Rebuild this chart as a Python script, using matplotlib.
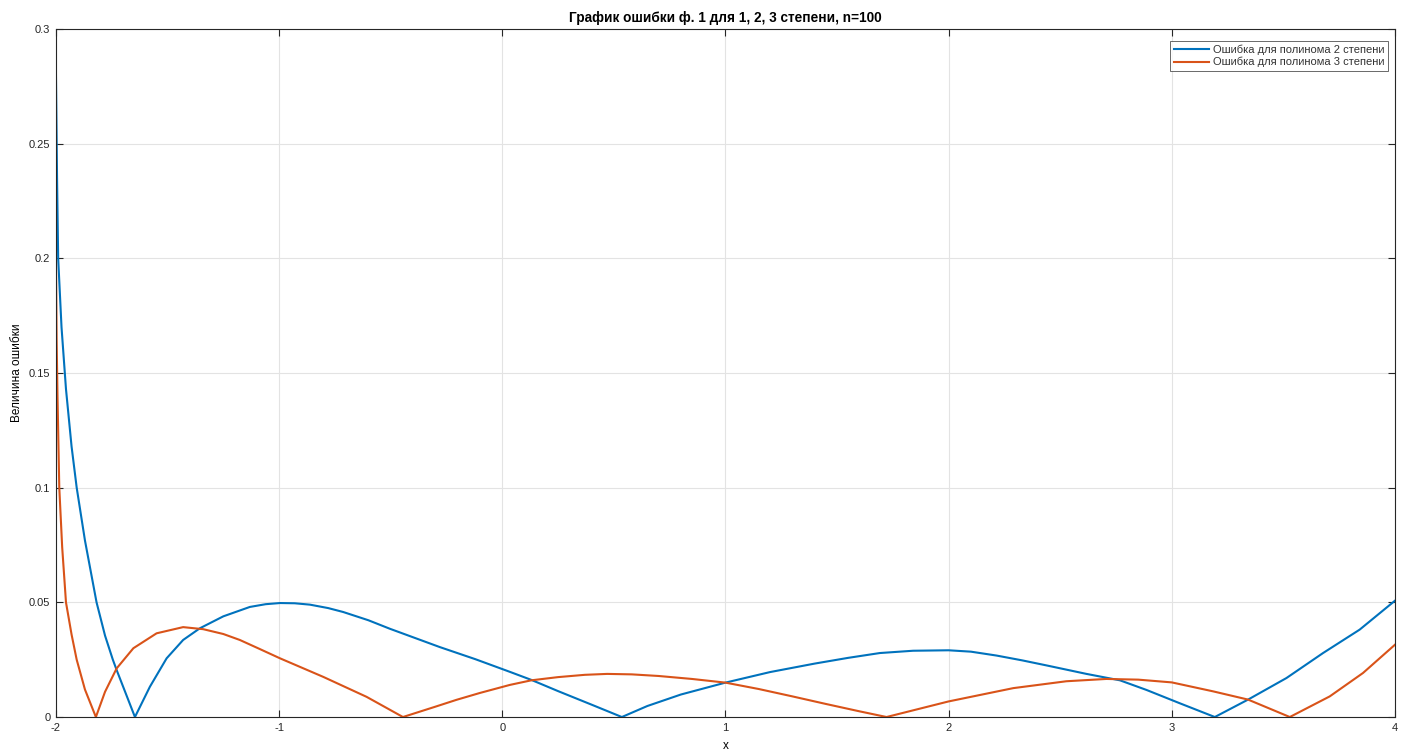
import numpy as np
import matplotlib.pyplot as plt

# error of degree-2 polynomial
x_p2 = [-2.000, -1.995, -1.990, -1.975, -1.955, -1.930, -1.907, -1.870, -1.818,
        -1.780, -1.745, -1.728, -1.690, -1.646, -1.579, -1.504, -1.430, -1.355,
        -1.250, -1.131, -1.060, -0.996, -0.930, -0.862, -0.780, -0.713, -0.600,
        -0.504, -0.280, -0.120, 0.034,
        0.130, 0.250, 0.400, 0.536, 0.650, 0.800, 1.000, 1.200, 1.400, 1.550,
        1.692, 1.841, 2.000, 2.100, 2.215, 2.330, 2.439, 2.618, 2.768, 2.887,
        3.036, 3.193, 3.342, 3.514, 3.678, 3.842, 4.000]
y_p2 = [0.281, 0.235, 0.200, 0.170, 0.143, 0.118, 0.100, 0.077, 0.050,
        0.0355, 0.0250, 0.0205, 0.0110, 0.000, 0.0132, 0.0256, 0.0336, 0.0387,
        0.0439, 0.0480, 0.0492, 0.0497, 0.0496, 0.0490, 0.0475, 0.0458, 0.0422,
        0.0385, 0.0305, 0.0252, 0.0197,
        0.0162, 0.0113, 0.0054, 0.000, 0.0048, 0.0098, 0.0150, 0.0196, 0.0233, 0.0258,
        0.0279, 0.0289, 0.0291, 0.0285, 0.0268, 0.0247, 0.0225, 0.0188, 0.0160, 0.0118,
        0.0060, 0.000, 0.0076, 0.0170, 0.0279, 0.0381, 0.0507]

# error of degree-3 polynomial
x_p3 = [-2.000, -1.997, -1.993, -1.985, -1.972, -1.955, -1.930, -1.907, -1.870,
        -1.821, -1.780, -1.728, -1.653, -1.549, -1.430, -1.340, -1.250, -1.176,
        -1.090, -0.996, -0.802, -0.608, -0.445, -0.300, -0.205, -0.100, 0.034,
        0.130, 0.250, 0.370, 0.470, 0.580, 0.700, 0.850, 1.000, 1.150, 1.300,
        1.450, 1.600, 1.722, 2.000, 2.290, 2.528, 2.707, 2.850, 3.000, 3.185,
        3.342, 3.529, 3.708, 3.857, 4.000]
y_p3 = [0.200, 0.165, 0.140, 0.100, 0.074, 0.050, 0.036, 0.025, 0.012,
        0.000, 0.0110, 0.0212, 0.0300, 0.0365, 0.0392, 0.0383, 0.0362, 0.0336,
        0.0298, 0.0256, 0.0175, 0.0088, 0.000, 0.0045, 0.0075, 0.0105, 0.0140,
        0.0160, 0.0174, 0.0184, 0.0188, 0.0186, 0.0179, 0.0166, 0.0150, 0.0122, 0.0090,
        0.0057, 0.0025, 0.000, 0.0068, 0.0126, 0.0156, 0.0166, 0.0163, 0.0151, 0.0112,
        0.0076, 0.000, 0.0090, 0.0192, 0.0315]

labels = ['Ошибка для полинома 2 степени', 'Ошибка для полинома 3 степени']
x_ticks = [-2, -1, 0, 1, 2, 3, 4]
y_ticks = [0, 0.05, 0.1, 0.15, 0.2, 0.25, 0.3]
y_tick_labels = ['0', '0.05', '0.1', '0.15', '0.2', '0.25', '0.3']

plt.rcParams['font.family'] = ['Liberation Sans', 'DejaVu Sans']

fig = plt.figure(figsize=(14.09, 7.55), dpi=100)
ax = fig.add_axes([0.0397, 0.0503, 0.9503, 0.9113])

ax.plot(x_p2, y_p2, color='#0072BD', lw=1.5, label=labels[0])
ax.plot(x_p3, y_p3, color='#D95319', lw=1.5, label=labels[1])

ax.set_xlim(-2, 4)
ax.set_ylim(0, 0.3)
ax.set_xticks(x_ticks)
ax.set_xticklabels([str(t) for t in x_ticks])
ax.set_yticks(y_ticks)
ax.set_yticklabels(y_tick_labels)

ax.grid(True, color='#e3e3e3', lw=0.8)
ax.set_axisbelow(True)
ax.tick_params(direction='in', length=5, width=0.8, top=True, right=True,
               labelsize=8, colors='#262626', pad=4)
for s in ax.spines.values():
    s.set_color('#262626')
    s.set_linewidth(0.8)

ax.set_title('График ошибки ф. 1 для 1, 2, 3 степени, n=100', fontsize=9.8,
             fontweight='bold', pad=5)
ax.set_xlabel('x', fontsize=8.5, labelpad=5)
ax.set_ylabel('Величина ошибки', fontsize=8.5, labelpad=4)

leg = ax.legend(loc='upper right', bbox_to_anchor=(0.9948, 0.9826),
                fontsize=8, frameon=True, fancybox=False, handlelength=3.2,
                borderpad=0.35, labelspacing=0.15, borderaxespad=0,
                handletextpad=0.3)
leg.get_frame().set_edgecolor('#262626')
leg.get_frame().set_linewidth(0.6)
for t in leg.get_texts():
    t.set_color('#333333')

fig.savefig('out.png', dpi=100)
